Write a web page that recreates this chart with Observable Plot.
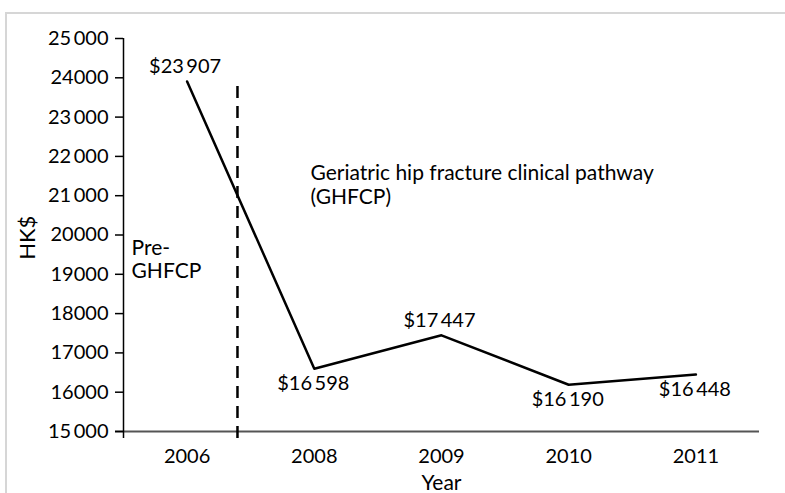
<!DOCTYPE html>
<html>
<head>
<meta charset="utf-8">
<script src="https://cdn.jsdelivr.net/npm/d3@7"></script>
<script src="https://cdn.jsdelivr.net/npm/@observablehq/plot@0.6"></script>
<style>
  body { margin: 0; background: #fff; }
  #wrap { position: relative; width: 785px; height: 493px; overflow: hidden; }
  #frame { position: absolute; left: 5px; top: 12px; width: 820px; height: 520px;
           border-left: 2px solid #d6d6d6; border-top: 2px solid #d6d6d6; }
  #chart { position: absolute; left: 0; top: 0; }
</style>
</head>
<body>
<div id="wrap"><div id="frame"></div><div id="chart"></div></div>
<script>
// ---- data ----
const years = ["2006", "2008", "2009", "2010", "2011"];
const costs = [23907, 16598, 17447, 16190, 16448];
const costLabels = ["$23\u2009907", "$16\u2009598", "$17\u2009447", "$16\u2009190", "$16\u2009448"];
const yTicks = [15000, 16000, 17000, 18000, 19000, 20000, 21000, 22000, 23000, 24000, 25000];
const yTickLabels = ["15\u2009000", "16000", "17000", "18000", "19000", "20000",
                     "21\u2009000", "22\u2009000", "23\u2009000", "24000", "25\u2009000"];
const preLabel = "Pre-\nGHFCP";
const pathwayLabel = "Geriatric hip fracture clinical pathway\n(GHFCP)";
const yLabel = "HK$";
const xLabel = "Year";

const data = years.map((year, i) => ({ i, year, cost: costs[i], label: costLabels[i] }));
const aboveIdx = [0, 2];

const font = "Lato, 'Gill Sans', 'Open Sans', sans-serif";
const fsNum = 20;
const fsText = 21;

const chart = Plot.plot({
  width: 785,
  height: 493,
  marginLeft: 123,
  marginRight: 26,
  marginTop: 38,
  marginBottom: 62,
  style: { fontFamily: font, fontSize: fsNum + "px", color: "#000", background: "transparent", overflow: "visible" },
  x: { type: "linear", domain: [-0.5, 4.5], axis: null },
  y: { domain: [15000, 25000], axis: null },
  marks: [
    // x axis line (extends slightly left of the y axis)
    Plot.ruleY([15000], { x1: -0.563, x2: 4.5, stroke: "#555", strokeWidth: 2 }),
    // y axis line (extends slightly below the x axis)
    Plot.ruleX([-0.5], { y1: 14820, y2: 25000, stroke: "#000", strokeWidth: 1.5 }),
    // y ticks and labels
    Plot.axisY(yTicks, {
      tickSize: 8, tickPadding: 7, stroke: "#000", strokeWidth: 1.5,
      tickFormat: d => yTickLabels[yTicks.indexOf(d)], fontSize: fsNum, label: null
    }),
    // x tick labels
    Plot.text(data, { x: "i", text: "year", frameAnchor: "bottom", dy: 17, lineAnchor: "top", fill: "#000", fontSize: fsNum }),
    // dashed pathway start line
    Plot.ruleX([0.396], { y1: 14820, y2: 23830, stroke: "#000", strokeWidth: 2.5, strokeDasharray: "12,8" }),
    // cost line
    Plot.line(data, { x: "i", y: "cost", stroke: "#000", strokeWidth: 2.5 }),
    // value labels
    Plot.text(data.filter(d => aboveIdx.includes(d.i)), { x: "i", y: "cost", text: "label", dy: -15, dx: -2, fill: "#000", fontSize: fsNum }),
    Plot.text(data.filter(d => !aboveIdx.includes(d.i)), { x: "i", y: "cost", text: "label", dy: 15, dx: -1, fill: "#000", fontSize: fsNum }),
    // annotations
    Plot.text([preLabel], { x: -0.437, y: 19936, text: d => d, textAnchor: "start", lineAnchor: "top", lineHeight: 1.14, fill: "#000", fontSize: fsText }),
    Plot.text([pathwayLabel], { x: 0.97, y: 21820, text: d => d, textAnchor: "start", lineAnchor: "top", lineHeight: 1.14, fill: "#000", fontSize: fsText }),
    // axis titles
    Plot.text([yLabel], { x: -0.5, y: 19930, text: d => d, rotate: -90, dx: -96, fill: "#000", fontSize: 22 }),
    Plot.text([xLabel], { x: 2, frameAnchor: "bottom", text: d => d, dy: 44, lineAnchor: "top", fill: "#000", fontSize: fsText })
  ]
});
document.getElementById("chart").appendChild(chart);
</script>
</body>
</html>
